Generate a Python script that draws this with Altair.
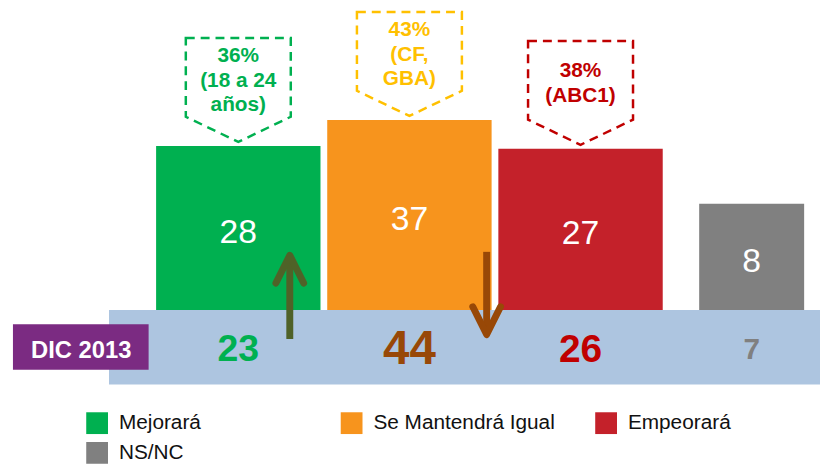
import altair as alt
import pandas as pd

# ---------------- data ----------------
categories = ["Mejorará", "Se Mantendrá Igual", "Empeorará", "NS/NC"]
current_values = [28, 37, 27, 8]
dic2013_values = [23, 44, 26, 7]
bar_colors = ["#00B050", "#F7941D", "#C4212A", "#808080"]
dic2013_colors = ["#00B050", "#984807", "#C00000", "#808080"]

callout_categories = ["Mejorará", "Se Mantendrá Igual", "Empeorará"]
callout_values = [28, 37, 27]
callout_texts = ["36%\n(18 a 24\naños)", "43%\n(CF,\nGBA)", "38%\n(ABC1)"]
callout_colors = ["#00B050", "#FFC000", "#C00000"]

band_label = ["DIC 2013"]
arrow_up_category = ["Mejorará"]
arrow_down_category = ["Se Mantendrá Igual"]

FONT = "Liberation Sans"
W, H = 820, 456

bars_df = pd.DataFrame({"cat": categories, "value": current_values, "prev": dic2013_values})
callout_df = pd.DataFrame({"cat": callout_categories, "value": callout_values, "label": callout_texts})
label_df = pd.DataFrame({"label": band_label})
up_df = pd.DataFrame({"cat": arrow_up_category})
down_df = pd.DataFrame({"cat": arrow_down_category})

# ---------------- scales ----------------
Y_DOMAIN = [-78.6, 75.0]
Y_RANGE = 448
PX_PER_UNIT = Y_RANGE / (Y_DOMAIN[1] - Y_DOMAIN[0])
x_scale = alt.Scale(domain=categories, range=[148.75, 834.8], paddingInner=0.03, paddingOuter=0)
y_scale = alt.Scale(domain=Y_DOMAIN, range=[Y_RANGE, 0], zero=False, nice=False)
BASE = -28.8          # bars stand on the blue band
BAND_BOTTOM = -54.6

x_enc = alt.X("cat:N", scale=x_scale, axis=None, sort=categories)

bars = alt.Chart(bars_df).mark_bar().encode(
    x=x_enc,
    y=alt.Y("value:Q", scale=y_scale, axis=None),
    y2=alt.Y2Datum(BASE),
    color=alt.Color(
        "cat:N",
        scale=alt.Scale(domain=categories, range=bar_colors),
        sort=categories,
        legend=alt.Legend(
            title=None, orient="none", legendX=79, legendY=406,
            direction="horizontal", columns=3, gridAlign="all",
            columnPadding=40, rowPadding=8, symbolType="square",
            symbolSize=484, symbolStrokeWidth=0, symbolOpacity=1,
            labelFontSize=21, labelFont=FONT, labelColor="#111111",
            labelOffset=11, padding=0, labelLimit=400,
        ),
    ),
    size=alt.condition(alt.datum.cat == "NS/NC", alt.value(106), alt.value(166)),
)

bar_text = alt.Chart(bars_df).transform_calculate(
    mid=f"(datum.value + ({BASE})) / 2"
).mark_text(color="white", fontSize=34, baseline="middle", dy=5, font=FONT).encode(
    x=x_enc,
    y=alt.Y("mid:Q", scale=y_scale, axis=None),
    text=alt.Text("value:Q"),
)

band = alt.Chart(label_df).mark_rect(color="#ADC5E0").encode(
    x=alt.value(102), x2=alt.value(820),
    y=alt.YDatum(BASE, axis=None), y2=alt.Y2Datum(BAND_BOTTOM),
)

purple = alt.Chart(label_df).mark_rect(color="#7B2B82").encode(
    x=alt.value(5), x2=alt.value(142), y=alt.value(317), y2=alt.value(363),
)
purple_text = alt.Chart(label_df).mark_text(
    color="white", fontSize=24, fontWeight="bold", font=FONT, baseline="middle"
).encode(x=alt.value(74), y=alt.value(344), text="label:N")

prev_text = alt.Chart(bars_df).mark_text(
    fontWeight="bold", baseline="middle", font=FONT
).encode(
    x=x_enc,
    y=alt.value(343),
    text=alt.Text("prev:Q"),
    size=alt.Size("prev:Q", scale=alt.Scale(domain=[7, 44], range=[30, 48]), legend=None),
    color=alt.Color("cat:N", scale=alt.Scale(domain=categories, range=dic2013_colors), legend=None),
)

PENT = "M-1,-1L1,-1L1,0.5L0,0.98L-1,0.5Z"
BOX_OFF = 56
callout_box = alt.Chart(callout_df).mark_point(
    shape=PENT, size=11236, filled=False, strokeDash=[9, 6], strokeWidth=2.5,
    opacity=1, yOffset=-BOX_OFF,
).encode(
    x=x_enc,
    y=alt.Y("value:Q", scale=y_scale, axis=None),
    color=alt.Color("cat:N", scale=alt.Scale(domain=callout_categories, range=callout_colors), legend=None),
)
# first line placed so that the whole text block sits centred in the upper part of the box
callout_text = alt.Chart(callout_df).transform_calculate(
    nl="length(split(datum.label, '\\n'))",
    ty=f"datum.value + ({BOX_OFF} + 10 + (datum.nl - 1) * 12.5) / {PX_PER_UNIT}",
).mark_text(
    fontWeight="bold", fontSize=21, lineHeight=25, lineBreak="\n",
    baseline="middle", font=FONT,
).encode(
    x=x_enc,
    y=alt.Y("ty:Q", scale=y_scale, axis=None),
    text="label:N",
    color=alt.Color("cat:N", scale=alt.Scale(domain=callout_categories, range=callout_colors), legend=None),
)

OLIVE = "#4F6228"
BROWN = "#984807"
up_shaft = alt.Chart(up_df).mark_rule(strokeWidth=7, color=OLIVE, xOffset=52).encode(
    x=x_enc, y=alt.value(250), y2=alt.value(332))
up_head = alt.Chart(up_df).mark_point(
    shape="M-1,1L0,-1L1,1", size=784, filled=False, strokeWidth=7, color=OLIVE,
    opacity=1, xOffset=52, strokeCap="round", strokeJoin="round",
).encode(x=x_enc, y=alt.value(261.5))
down_shaft = alt.Chart(down_df).mark_rule(strokeWidth=7, color=BROWN, xOffset=78).encode(
    x=x_enc, y=alt.value(244), y2=alt.value(326))
down_head = alt.Chart(down_df).mark_point(
    shape="M-1,-1L0,1L1,-1", size=784, filled=False, strokeWidth=7, color=BROWN,
    opacity=1, xOffset=78, strokeCap="round", strokeJoin="round",
).encode(x=x_enc, y=alt.value(313.5))

chart = alt.layer(
    bars, bar_text, band, purple, purple_text, prev_text,
    callout_box, callout_text, up_shaft, up_head, down_shaft, down_head,
).resolve_scale(color="independent", size="independent").properties(
    width=W, height=H, padding=0, autosize=alt.AutoSizeParams(type="none")
).configure(font=FONT).configure_view(strokeWidth=0, stroke="transparent")

chart.save("out.html", embed_options={"renderer": "svg", "actions": False})
